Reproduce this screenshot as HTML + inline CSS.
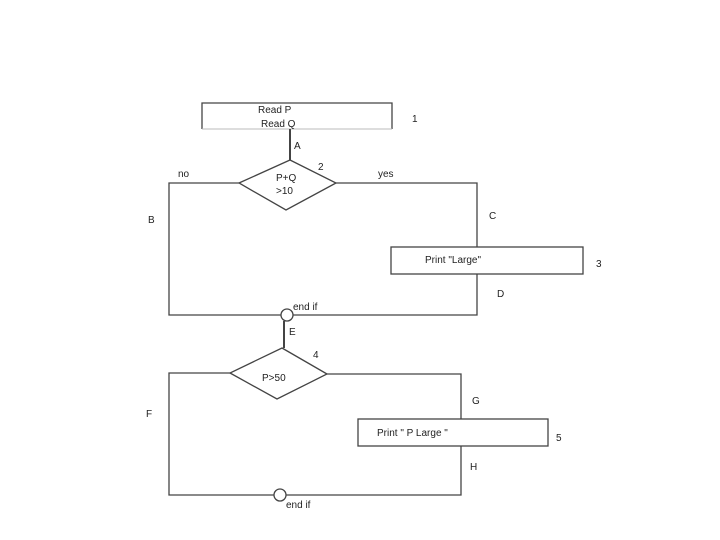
<!DOCTYPE html>
<html><head><meta charset="utf-8"><style>
html,body{margin:0;padding:0;background:#fff;width:720px;height:540px;overflow:hidden}
text{font-family:"Liberation Sans",sans-serif;font-size:10px;fill:#222}
</style></head><body>
<svg width="720" height="540" xmlns="http://www.w3.org/2000/svg">
<g fill="none" stroke="#444" stroke-width="1.3">
<path d="M202,129 V103 H392 V129"/>
<line x1="202" y1="129" x2="392" y2="129" stroke="#bbb" stroke-width="1"/>
<line x1="290" y1="129" x2="290" y2="160" stroke-width="2"/>
<polygon points="290,160 336,183 286,210 239,183"/>
<path d="M239,183 H169 V315 H281"/>
<path d="M293,315 H477 V274"/>
<path d="M336,183 H477 V247"/>
<rect x="391" y="247" width="192" height="27"/>
<circle cx="287" cy="315" r="6"/>
<line x1="284" y1="321" x2="284" y2="348" stroke-width="2"/>
<polygon points="282,348 327,374 277,399 230,373"/>
<path d="M230,373 H169 V495 H274"/>
<path d="M286,495 H461 V446" />
<path d="M327,374 H461 V419"/>
<rect x="358" y="419" width="190" height="27"/>
<circle cx="280" cy="495" r="6"/>
</g>
<g>
<text x="258" y="113">Read P</text>
<text x="261" y="127">Read Q</text>
<text x="412" y="122">1</text>
<text x="294" y="149">A</text>
<text x="318" y="170">2</text>
<text x="178" y="177">no</text>
<text x="378" y="177">yes</text>
<text x="276" y="181">P+Q</text>
<text x="276" y="194">&gt;10</text>
<text x="148" y="223">B</text>
<text x="489" y="219">C</text>
<text x="425" y="263">Print "Large"</text>
<text x="596" y="267">3</text>
<text x="497" y="297">D</text>
<text x="293" y="310">end if</text>
<text x="289" y="335">E</text>
<text x="313" y="358">4</text>
<text x="262" y="381">P&gt;50</text>
<text x="146" y="417">F</text>
<text x="472" y="404">G</text>
<text x="377" y="436">Print " P Large "</text>
<text x="556" y="441">5</text>
<text x="470" y="470">H</text>
<text x="286" y="508">end if</text>
</g>
</svg>
</body></html>
